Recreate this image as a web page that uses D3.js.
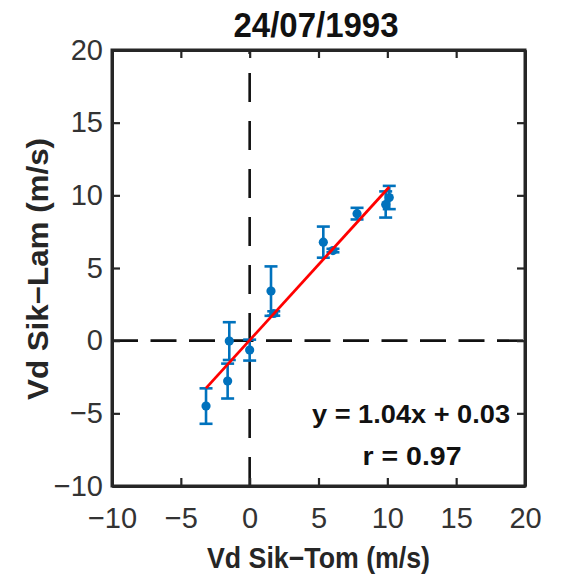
<!DOCTYPE html>
<html>
<head>
<meta charset="utf-8">
<script src="https://cdn.jsdelivr.net/npm/d3@7"></script>
<style>
  html, body { margin: 0; padding: 0; background: #fff; }
  svg { display: block; font-family: "Liberation Sans", Arial, sans-serif; }
</style>
</head>
<body>
<svg id="chart" width="564" height="575"></svg>
<script>
// ---- data ----
const xVals = [-3.17, -1.6, -1.48, 0.0, 1.55, 1.75, 5.35, 6.05, 7.8, 9.88, 10.14];
const yVals = [-4.5, -2.78, -0.03, -0.65, 3.41, 1.87, 6.78, 6.2, 8.74, 9.37, 9.85];
const yErr  = [1.22, 1.2, 1.3, 0.72, 1.7, 0.15, 1.07, 0.12, 0.4, 0.9, 0.8];
const xTicks = [-10, -5, 0, 5, 10, 15, 20];
const yTicks = [-10, -5, 0, 5, 10, 15, 20];
const fitSlope = 1.04;
const fitIntercept = 0.03;
const titleText = "24/07/1993";
const xLabel = "Vd Sik\u2212Tom (m/s)";
const yLabel = "Vd Sik\u2212Lam (m/s)";
const eqText = "y = 1.04x + 0.03";
const rText = "r = 0.97";

const points = xVals.map((x, i) => ({ x, y: yVals[i], e: yErr[i] }));

// ---- layout ----
const L = 112, R = 525, T = 50, B = 486;
const svg = d3.select("#chart");
const x = d3.scaleLinear().domain([-10, 20]).range([L, R]);
const y = d3.scaleLinear().domain([-10, 20]).range([B, T]);
const axisColor = "#262626";
const blue = "#0072BD";
const narrow = "'Liberation Sans Narrow', 'Liberation Sans', Arial, sans-serif";

// dashed reference lines
svg.append("line")
  .attr("x1", x(-10)).attr("x2", x(20)).attr("y1", y(0)).attr("y2", y(0))
  .attr("stroke", "#111").attr("stroke-width", 2.6).attr("stroke-dasharray", "26,12.5");
svg.append("line")
  .attr("x1", x(0)).attr("x2", x(0)).attr("y1", y(-10)).attr("y2", y(20))
  .attr("stroke", "#111").attr("stroke-width", 2.6).attr("stroke-dasharray", "29,19");

// error bars
const cap = 6.5;
const eb = svg.append("g").attr("stroke", blue).attr("stroke-width", 2.6).attr("fill", "none");
points.forEach(p => {
  eb.append("line").attr("x1", x(p.x)).attr("x2", x(p.x)).attr("y1", y(p.y - p.e)).attr("y2", y(p.y + p.e));
  eb.append("line").attr("x1", x(p.x) - cap).attr("x2", x(p.x) + cap).attr("y1", y(p.y + p.e)).attr("y2", y(p.y + p.e));
  eb.append("line").attr("x1", x(p.x) - cap).attr("x2", x(p.x) + cap).attr("y1", y(p.y - p.e)).attr("y2", y(p.y - p.e));
});
svg.append("g").selectAll("circle").data(points).join("circle")
  .attr("cx", d => x(d.x)).attr("cy", d => y(d.y)).attr("r", 4.6).attr("fill", blue);

// regression line
const xMin = d3.min(xVals), xMax = d3.max(xVals);
svg.append("line")
  .attr("x1", x(xMin)).attr("y1", y(fitSlope * xMin + fitIntercept))
  .attr("x2", x(xMax)).attr("y2", y(fitSlope * xMax + fitIntercept))
  .attr("stroke", "#ff0000").attr("stroke-width", 2.8);

// axes
const fmt = d3.format("d");
const gx = svg.append("g").attr("transform", `translate(0,${B})`)
  .call(d3.axisBottom(x).tickValues(xTicks).tickFormat(fmt).tickSizeInner(-8).tickSizeOuter(0).tickPadding(21));
const gy = svg.append("g").attr("transform", `translate(${L},0)`)
  .call(d3.axisLeft(y).tickValues(yTicks).tickFormat(fmt).tickSizeInner(-8).tickSizeOuter(0).tickPadding(9));
const gt = svg.append("g").attr("transform", `translate(0,${T})`)
  .call(d3.axisTop(x).tickValues(xTicks).tickFormat("").tickSizeInner(-8).tickSizeOuter(0));
const gr = svg.append("g").attr("transform", `translate(${R},0)`)
  .call(d3.axisRight(y).tickValues(yTicks).tickFormat("").tickSizeInner(-8).tickSizeOuter(0));
[gx, gy, gt, gr].forEach(g => {
  g.selectAll(".domain").attr("stroke", axisColor).attr("stroke-width", 3);
  g.selectAll(".tick line").attr("stroke", axisColor).attr("stroke-width", 2.2);
  g.selectAll(".tick text").attr("fill", "#333").attr("font-size", 29)
    .attr("font-family", narrow);
});
svg.append("rect").attr("x", L).attr("y", T).attr("width", R - L).attr("height", B - T)
  .attr("fill", "none").attr("stroke", axisColor).attr("stroke-width", 3);

// title & labels
svg.append("text").attr("x", 316).attr("y", 37).attr("text-anchor", "middle")
  .attr("font-family", narrow)
  .attr("font-size", 35).attr("font-weight", "bold").attr("fill", "#111")
  .attr("textLength", 165).attr("lengthAdjust", "spacingAndGlyphs").text(titleText);
svg.append("text").attr("x", 318.5).attr("y", 568).attr("text-anchor", "middle")
  .attr("font-family", narrow)
  .attr("font-size", 29).attr("font-weight", "bold").attr("fill", "#262626")
  .attr("textLength", 223).attr("lengthAdjust", "spacingAndGlyphs").text(xLabel);
svg.append("text").attr("transform", "translate(48,269) rotate(-90)").attr("text-anchor", "middle")
  .attr("font-family", narrow)
  .attr("font-size", 29).attr("font-weight", "bold").attr("fill", "#262626")
  .attr("textLength", 262).attr("lengthAdjust", "spacingAndGlyphs").text(yLabel);

// annotation
svg.append("text").attr("x", 411).attr("y", 423).attr("text-anchor", "middle")
  .attr("font-family", narrow)
  .attr("font-size", 25).attr("font-weight", "bold").attr("fill", "#111")
  .attr("textLength", 198).attr("lengthAdjust", "spacingAndGlyphs").text(eqText);
svg.append("text").attr("x", 412).attr("y", 465).attr("text-anchor", "middle")
  .attr("font-family", narrow)
  .attr("font-size", 25).attr("font-weight", "bold").attr("fill", "#111")
  .attr("textLength", 99).attr("lengthAdjust", "spacingAndGlyphs").text(rText);
</script>
</body>
</html>
